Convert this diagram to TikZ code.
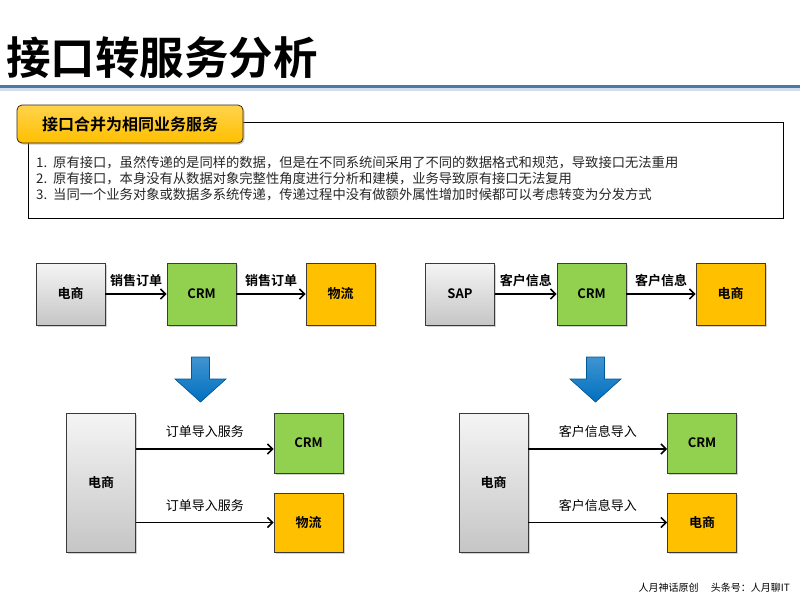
\documentclass[tikz,border=0pt]{standalone}
\usepackage{fontspec}
\setmainfont{Noto Sans CJK SC}[BoldFont={Noto Sans CJK SC Bold}]
\usetikzlibrary{arrows.meta,calc,shadows}
\definecolor{cgreen}{HTML}{92D050}
\definecolor{corange}{HTML}{FFC000}
\definecolor{cblue}{HTML}{0070C0}
\definecolor{cline}{HTML}{4A79A5}
\definecolor{cborder}{HTML}{3A3A3A}
\tikzset{
  box/.style={draw=cborder, line width=0.9pt, minimum width=69pt, minimum height=62pt,
    font=\fontsize{13}{13}\selectfont\bfseries, inner sep=0pt,
    drop shadow={shadow xshift=1.5pt, shadow yshift=-1.5pt, fill=black!35, opacity=0.5}},
  graybox/.style={box, top color=gray!8, bottom color=gray!45},
  greenbox/.style={box, fill=cgreen},
  orangebox/.style={box, fill=corange},
  arr/.style={line width=1.8pt, -{Straight Barb[length=5pt,width=10pt,line width=1.6pt]}},
  toplbl/.style={font=\fontsize{13}{13}\selectfont\bfseries},
  botlbl/.style={font=\fontsize{13}{13}\selectfont},
  bodytxt/.style={font=\fontsize{13.3}{13.3}\selectfont, anchor=west, inner sep=0pt, text=black!85},
  bigarrow/.style={top color=cblue!75, bottom color=cblue!100!black, draw=cblue!80!black, line width=0.6pt}
}
\begin{document}
\begin{tikzpicture}[x=1pt,y=-1pt]
\useasboundingbox (0,0) rectangle (800,600);
\fill[white] (0,0) rectangle (800,600);

% title
\node[anchor=west, inner sep=0pt, font=\fontsize{44.5}{44.5}\selectfont\bfseries] (title) at (6,58) {接口转服务分析};
\fill[cline!25] (0,87.5) rectangle (800,91);
\fill[cline] (0,84.5) rectangle (800,88);

% text box
\node[draw=black, line width=0.8pt, fill=white, minimum width=755pt, minimum height=96pt, inner sep=0pt] (panel) at (405.5,170) {};
\node[draw=black!70!brown, line width=0.8pt, rounded corners=5pt, top color=corange!70, bottom color=corange,
      minimum width=226pt, minimum height=38pt, inner sep=0pt, font=\fontsize{16}{16}\selectfont\bfseries,
      drop shadow={shadow xshift=1.5pt, shadow yshift=-1.5pt, fill=black!40, opacity=0.5}] (tab) at (130,124) {接口合并为相同业务服务};
\node[bodytxt] (l1) at (36,163) {1.\ \ 原有接口，虽然传递的是同样的数据，但是在不同系统间采用了不同的数据格式和规范，导致接口无法重用};
\node[bodytxt] (l2) at (36,179) {2.\ \ 原有接口，本身没有从数据对象完整性角度进行分析和建模，业务导致原有接口无法复用};
\node[bodytxt] (l3) at (36,195) {3.\ \ 当同一个业务对象或数据多系统传递，传递过程中没有做额外属性增加时候都可以考虑转变为分发方式};

% top-left flow
\node[graybox] (a1) at (70.5,294) {电商};
\node[greenbox] (a2) at (201.5,294) {CRM};
\node[orangebox] (a3) at (340.5,294) {物流};
\draw[arr] (a1) -- node[toplbl, above=3pt] (la1) {销售订单} (a2);
\draw[arr] (a2) -- node[toplbl, above=3pt] (la2) {销售订单} (a3);

% top-right flow
\node[graybox] (b1) at (460,294) {SAP};
\node[greenbox] (b2) at (591.5,294) {CRM};
\node[orangebox] (b3) at (730.5,294) {电商};
\draw[arr] (b1) -- node[toplbl, above=3pt] (lb1) {客户信息} (b2);
\draw[arr] (b2) -- node[toplbl, above=3pt] (lb2) {客户信息} (b3);

% blue down arrows
\filldraw[bigarrow] (191.5,357) -- (209.5,357) -- (209.5,379) -- (226,379) -- (200.5,402) -- (175,379) -- (191.5,379) -- cycle;
\filldraw[bigarrow] (586.5,357) -- (604.5,357) -- (604.5,379) -- (621,379) -- (595.5,402) -- (570,379) -- (586.5,379) -- cycle;

% bottom-left
\node[graybox, minimum height=139pt] (c1) at (101,482.5) {电商};
\node[greenbox, minimum height=60pt] (c2) at (308.5,443) {CRM};
\node[orangebox, minimum height=59pt] (c3) at (308.5,522.5) {物流};
\draw[arr] ([yshift=-6pt]c2.west -| c1.east) -- node[botlbl, above=7pt] (lc1) {订单导入服务} ([yshift=-6pt]c2.west);
\draw[arr] (c3.west -| c1.east) -- node[botlbl, above=7pt] (lc2) {订单导入服务} (c3.west);

% bottom-right
\node[graybox, minimum height=139pt] (d1) at (493.5,482.5) {电商};
\node[greenbox, minimum height=60pt] (d2) at (702,443) {CRM};
\node[orangebox, minimum height=59pt] (d3) at (702,522.5) {电商};
\draw[arr] ([yshift=-6pt]d2.west -| d1.east) -- node[botlbl, above=7pt] (ld1) {客户信息导入} ([yshift=-6pt]d2.west);
\draw[arr] (d3.west -| d1.east) -- node[botlbl, above=7pt] (ld2) {客户信息导入} (d3.west);

% footer
\node[anchor=east, inner sep=0pt, font=\fontsize{10}{10}\selectfont] (foot) at (790,588) {人月神话原创\quad\ 头条号：人月聊IT};
\end{tikzpicture}
\end{document}
